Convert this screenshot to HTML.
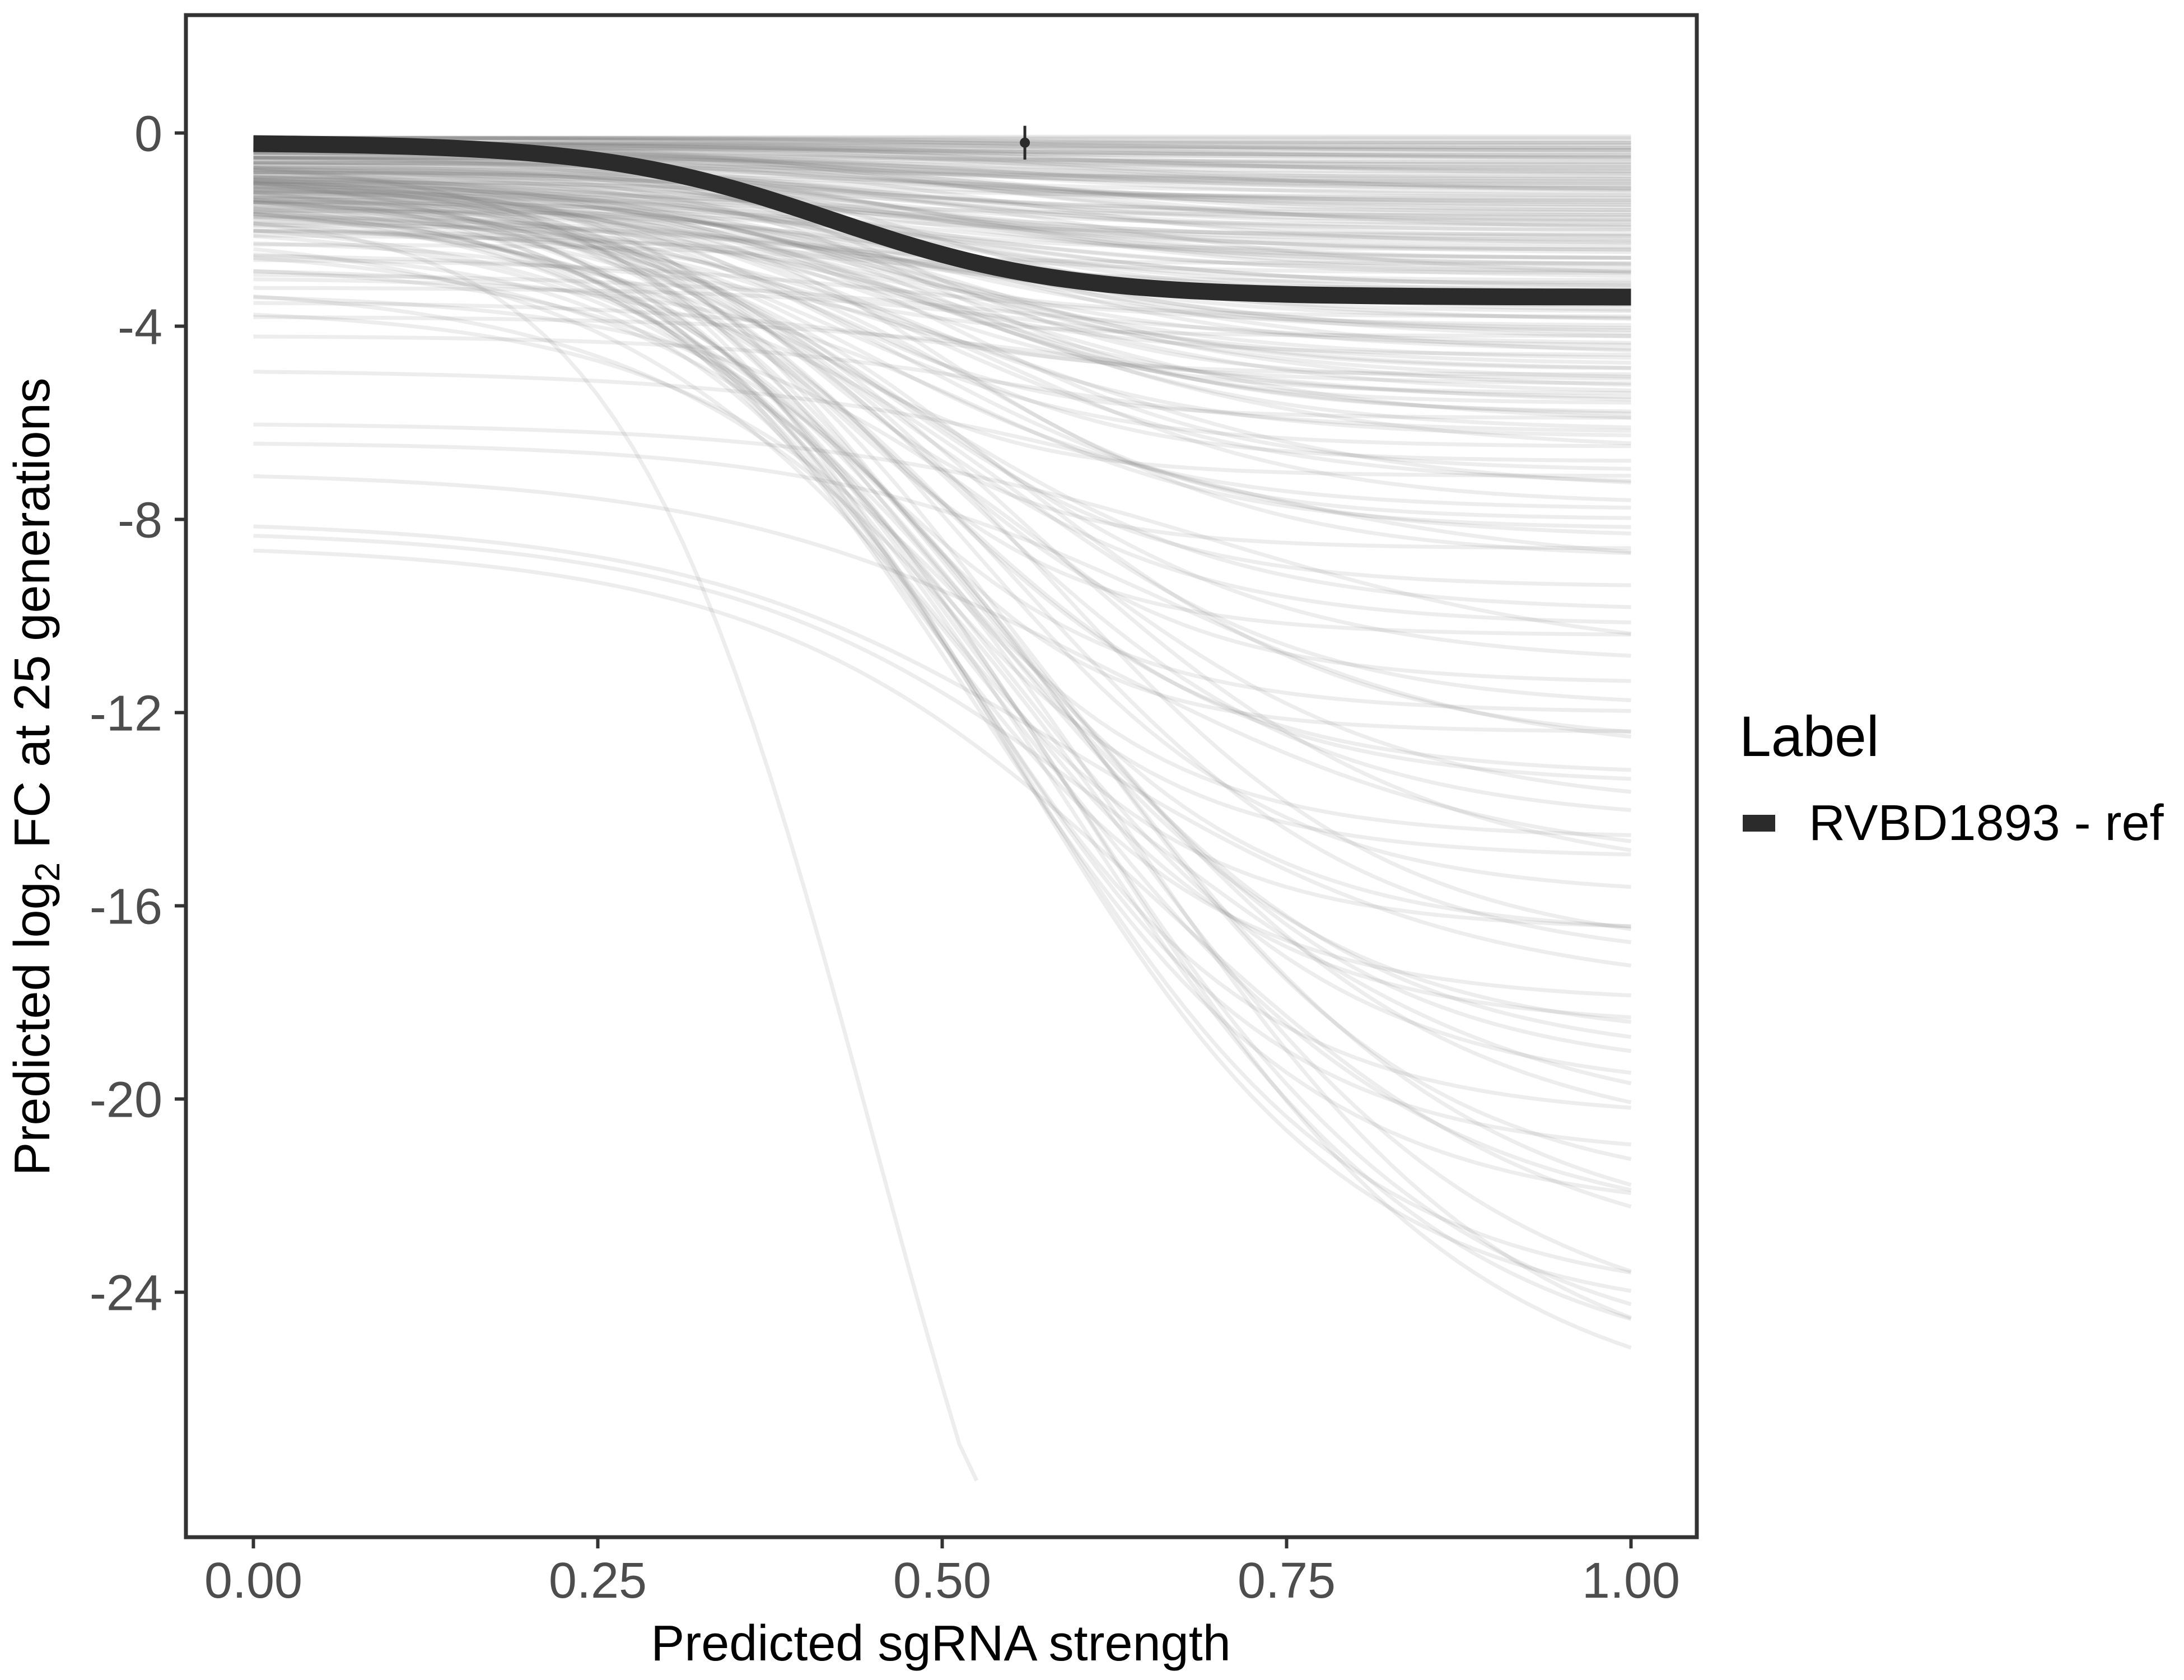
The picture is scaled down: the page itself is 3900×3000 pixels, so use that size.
<!DOCTYPE html>
<html><head><meta charset="utf-8"><style>
html,body{margin:0;padding:0;background:#fff}
svg{display:block;font-family:"Liberation Sans",sans-serif}
</style></head><body>
<svg id="chart" width="3900" height="3000" viewBox="0 0 3900 3000" xmlns="http://www.w3.org/2000/svg">
<rect width="3900" height="3000" fill="#fff"/>
<defs><clipPath id="pc"><rect x="332" y="27" width="2698" height="2718"/></clipPath></defs>
<g id="lines" clip-path="url(#pc)"></g>
<g id="main" clip-path="url(#pc)"></g>
<rect x="332" y="27" width="2698" height="2718" fill="none" stroke="#333" stroke-width="7"/>
<g id="axes"></g>
<text x="1680" y="2965" font-size="90" text-anchor="middle" fill="#000">Predicted sgRNA strength</text>
<text transform="translate(88,1387) rotate(-90)" font-size="90" text-anchor="middle" fill="#000">Predicted  log<tspan font-size="62" dy="18">2</tspan><tspan dy="-18"> FC at 25 generations</tspan></text>
<text x="3106" y="1350" font-size="102" fill="#000">Label</text>
<rect x="3112" y="1455" width="58" height="30" fill="#2b2b2b"/>
<text x="3230" y="1500" font-size="90" fill="#000">RVBD1893 - ref</text>
</svg>
<script>
const xTicks=[0,0.25,0.5,0.75,1];
const xTickLabels=["0.00","0.25","0.50","0.75","1.00"];
const yTicks=[0,-4,-8,-12,-16,-20,-24];
const yTickLabels=["0","-4","-8","-12","-16","-20","-24"];
const curveStarts=[-0.1,-0.2,-0.1,-0.3,-0.2,-0.4,-0.2,-0.5,-0.3,-0.6,-0.4,-0.7,-0.2,-0.8,-0.5,-0.9,-0.3,-1.0,-0.6,-1.1,-0.4,-1.2,-0.7,-1.3,-0.5,-1.5,-0.8,-1.7,-0.6,-1.9,-0.9,-2.1,-1.0,-2.3,-1.2,-2.6,-1.4,-2.9,-1.6,-3.2,-1.0,-3.5,-1.3,-3.8,-1.1,-4.2,-1.5,-2.0,-0.9,-2.5,-1.2,-3.0,-0.8,-4.9,-1.4,-2.2,-1.0,-6.0,-1.6,-2.8,-1.1,-6.4,-1.8,-3.3,-0.9,-7.0,-1.3,-2.4,-1.7,-8.0,-1.2,-3.6,-1.9,-8.2,-1.5,-2.7,-2.0,-8.5,-1.4,-3.1,-1.0,-2.3,-1.6];
const curveEnds=[-0.2,-0.3,-0.4,-0.5,-0.6,-0.7,-0.8,-0.9,-1.0,-1.1,-1.2,-1.3,-1.4,-1.5,-1.6,-1.7,-1.8,-1.9,-2.0,-2.1,-2.2,-2.3,-2.4,-2.5,-2.6,-2.7,-2.8,-2.9,-3.0,-3.1,-3.2,-3.3,-3.5,-3.6,-3.8,-4.0,-4.2,-4.4,-4.6,-4.8,-5.0,-5.2,-5.4,-5.6,-5.9,-6.2,-6.5,-6.8,-7.1,-7.4,-7.8,-8.2,-8.6,-9.0,-9.4,-9.9,-10.4,-10.9,-11.4,-11.9,-12.4,-12.9,-13.5,-14.0,-14.6,-15.2,-15.8,-16.5,-17.2,-17.8,-18.5,-19.2,-19.9,-20.6,-21.2,-22.0,-22.8,-23.5,-24.2,-25.0,-25.8,-26.2,-40.0];
const curveMids=[0.3,0.5,0.4,0.6,0.35,0.45,0.55,0.3,0.4,0.5,0.6,0.35,0.45,0.55,0.4,0.3,0.5,0.45,0.6,0.35,0.42,0.5,0.38,0.55,0.47,0.33,0.52,0.4,0.58,0.44,0.36,0.5,0.41,0.56,0.39,0.48,0.34,0.53,0.43,0.6,0.37,0.5,0.45,0.62,0.4,0.55,0.42,0.47,0.38,0.58,0.44,0.52,0.4,0.65,0.46,0.5,0.42,0.7,0.48,0.55,0.44,0.66,0.5,0.58,0.46,0.62,0.52,0.48,0.56,0.6,0.5,0.57,0.54,0.64,0.52,0.6,0.56,0.66,0.55,0.62,0.58,0.63,0.45];
const curveSteep=[10,8,12,7,9,11,8,10,13,9,7,12,10,8,11,9,10,12,8,9,11,10,13,8,9,12,10,9,7,11,12,8,10,9,11,8,12,7,10,9,11,9,10,8,12,9,10,11,12,8,9,10,12,7,10,9,11,7,10,9,12,8,9,8,10,7,9,10,8,7,9,8,8,7,9,8,7,7,8,7,7,7,11];
const bandStarts=[-0.1,-0.1,-0.2,-0.1,-0.2,-0.3,-0.1,-0.2,-0.3,-0.4,-0.2,-0.3,-0.5,-0.2,-0.4,-0.6,-0.3,-0.5,-0.7,-0.4,-0.6,-0.8,-0.5,-0.7,-0.9,-0.6,-1.0,-0.8,-1.2,-0.9,-1.1,-1.4,-1.0,-1.3,-1.6,-0.8,-1.2,-0.5,-1.5,-1.0,-0.7,-1.8,-1.1,-0.6,-1.4,-0.9,-2.0,-1.3,-0.8,-1.7];
const bandEnds=[-0.1,-0.2,-0.3,-0.35,-0.45,-0.5,-0.55,-0.65,-0.75,-0.85,-0.95,-1.05,-1.15,-1.25,-1.35,-1.45,-1.55,-1.65,-1.75,-1.85,-2.0,-2.15,-2.3,-2.45,-2.6,-2.75,-2.9,-3.05,-3.2,-3.4,-3.7,-3.9,-4.1,-4.3,-4.5,-4.7,-4.9,-5.1,-5.3,-5.5,-5.8,-6.0,-6.3,-6.6,-7.0,-7.3,-7.7,-8.0,-8.4,-8.8];
const bandMids=[0.4,0.5,0.45,0.55,0.4,0.5,0.6,0.45,0.5,0.4,0.55,0.45,0.5,0.6,0.42,0.5,0.48,0.56,0.44,0.52,0.46,0.5,0.54,0.42,0.5,0.47,0.53,0.45,0.5,0.44,0.48,0.52,0.46,0.5,0.55,0.45,0.5,0.48,0.53,0.47,0.5,0.55,0.46,0.5,0.52,0.48,0.55,0.5,0.47,0.53];
const bandSteep=[8,9,7,10,8,9,7,10,8,9,11,8,9,7,10,8,9,11,8,9,10,8,9,7,10,8,9,11,8,9,10,8,9,7,10,8,9,11,8,9,10,8,9,7,10,8,9,11,8,9];
const deepStarts=[-0.8,-1.2,-0.6,-1.5,-1.0,-0.9,-1.3,-0.7,-1.1,-1.6,-0.8,-1.4,-1.0,-0.5,-1.2,-0.9,-1.7,-1.1,-0.6,-1.3];
const deepEnds=[-10.2,-11.0,-12.0,-12.7,-13.3,-14.3,-15.0,-15.5,-16.6,-17.0,-18.0,-18.8,-19.5,-20.4,-21.0,-22.4,-23.0,-24.6,-25.5,-26.6];
const deepMids=[0.45,0.5,0.42,0.55,0.48,0.52,0.46,0.56,0.5,0.58,0.47,0.53,0.55,0.5,0.57,0.52,0.6,0.55,0.58,0.6];
const deepSteep=[9,8,10,8,9,8,10,7,9,8,9,8,8,9,7,8,7,8,7,7];
const mainStart=-0.2, mainEnd=-3.4, mainMid=0.42, mainK=12;
const pointX=0.56, pointY=-0.2, pointLo=-0.55, pointHi=0.15;

const NS="http://www.w3.org/2000/svg";
const X=v=>452.5+v*2460;
const Y=v=>237.5-v*86.25;
function curve(a,b,m,k,n){let d="";for(let i=0;i<=n;i++){const x=i/n;const y=a+(b-a)/(1+Math.exp(-k*(x-m)));const yy=Math.max(y,-27.9);d+=(i?"L":"M")+X(x).toFixed(1)+","+Y(yy).toFixed(1);if(y<-27.9)break;}return d;}
const lg=document.getElementById('lines');
function drawSet(starts,ends,mids,ks){
  ends.forEach((e,i)=>{
    const p=document.createElementNS(NS,'path');
    p.setAttribute('d',curve(starts[i],e,mids[i],ks[i],80));
    p.setAttribute('fill','none');p.setAttribute('stroke','#808080');
    p.setAttribute('stroke-opacity','0.14');p.setAttribute('stroke-width','7');
    
    
    lg.appendChild(p);
  });
}
drawSet(curveStarts,curveEnds,curveMids,curveSteep);
drawSet(bandStarts,bandEnds,bandMids,bandSteep);
drawSet(bandStarts,bandEnds.map(v=>v*0.7),bandMids,bandSteep);
drawSet(deepStarts,deepEnds,deepMids,deepSteep);
const mg=document.getElementById('main');
const mp=document.createElementNS(NS,'path');
mp.setAttribute('d',curve(mainStart,mainEnd,mainMid,mainK,100));
mp.setAttribute('fill','none');mp.setAttribute('stroke','#2b2b2b');mp.setAttribute('stroke-width','30');


mg.appendChild(mp);
const eb=document.createElementNS(NS,'line');
eb.setAttribute('x1',X(pointX));eb.setAttribute('x2',X(pointX));eb.setAttribute('y1',Y(pointLo));eb.setAttribute('y2',Y(pointHi));
eb.setAttribute('stroke','#2b2b2b');eb.setAttribute('stroke-width','5');


mg.appendChild(eb);
const pt=document.createElementNS(NS,'circle');
pt.setAttribute('cx',X(pointX));pt.setAttribute('cy',Y(pointY));pt.setAttribute('r','9');pt.setAttribute('fill','#2b2b2b');


mg.appendChild(pt);
const ax=document.getElementById('axes');
xTicks.forEach((t,i)=>{
  const l=document.createElementNS(NS,'line');
  l.setAttribute('x1',X(t));l.setAttribute('x2',X(t));l.setAttribute('y1',2748);l.setAttribute('y2',2765);
  l.setAttribute('stroke','#333');l.setAttribute('stroke-width','6');
  
  
  ax.appendChild(l);
  const tx=document.createElementNS(NS,'text');
  tx.setAttribute('x',X(t));tx.setAttribute('y',2853);tx.setAttribute('text-anchor','middle');
  tx.setAttribute('font-size','90');tx.setAttribute('fill','#4d4d4d');tx.textContent=xTickLabels[i];
  
  
  ax.appendChild(tx);
});
yTicks.forEach((t,i)=>{
  const l=document.createElementNS(NS,'line');
  l.setAttribute('x1',312);l.setAttribute('x2',329);l.setAttribute('y1',Y(t));l.setAttribute('y2',Y(t));
  l.setAttribute('stroke','#333');l.setAttribute('stroke-width','6');
  
  
  ax.appendChild(l);
  const tx=document.createElementNS(NS,'text');
  tx.setAttribute('x',290);tx.setAttribute('y',Y(t)+32);tx.setAttribute('text-anchor','end');
  tx.setAttribute('font-size','90');tx.setAttribute('fill','#4d4d4d');tx.textContent=yTickLabels[i];
  
  
  ax.appendChild(tx);
});
</script>
</body></html>
